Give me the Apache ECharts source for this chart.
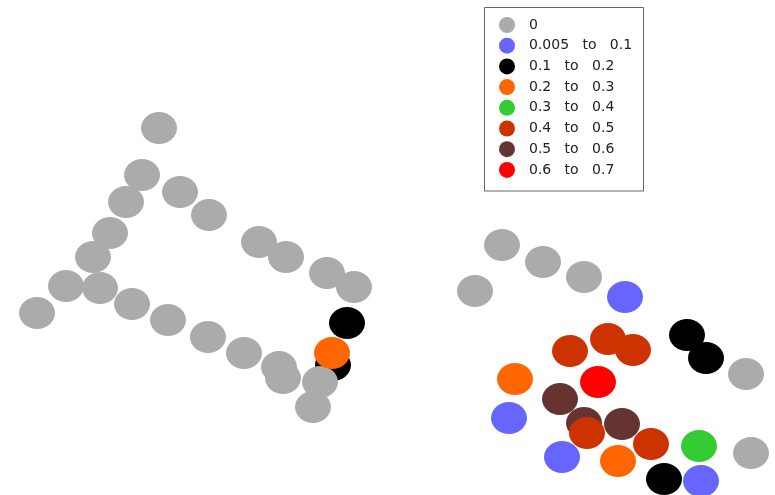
<!DOCTYPE html>
<html>
<head>
<meta charset="utf-8">
<script src="https://cdn.jsdelivr.net/npm/echarts@6/dist/echarts.min.js"></script>
<style>
html,body{margin:0;padding:0;background:#fff;}
#chart{width:775px;height:495px;}
</style>
</head>
<body>
<div id="chart"></div>
<script>
// Category labels (legend)
const categories = ['0', '0.005   to   0.1', '0.1   to   0.2', '0.2   to   0.3', '0.3   to   0.4', '0.4   to   0.5', '0.5   to   0.6', '0.6   to   0.7'];
const colors = ['#ababab', '#6666ff', '#000000', '#ff6600', '#33cc33', '#cc3300', '#663333', '#ff0000'];

// Points per category [x, y] (plot coordinates)
const pts0 = [
  [159,128],[142,175],[180,192],[126,202],[209,215],[110,233],[93,257],[259,242],[286,257],
  [327,273],[354,287],[66,286],[100,288],[37,313],[132,304],[168,320],[208,337],[244,353],
  [279,367],[283,378],[320,382],[313,407],
  [502,245],[543,262],[584,277],[475,291],[746,374],[751,453]
];
const pts1 = [[625,297],[509,418],[562,457],[701,481]];
const pts2 = [[347,323],[333,365],[687,335],[706,358],[664,479]];
const pts3 = [[332,353],[515,379],[618,461]];
const pts4 = [[699,446]];
const pts5 = [[570,351],[608,339],[633,350],[587,433],[651,444]];
const pts6 = [[560,399],[584,423],[622,424]];
const pts7 = [[598,382]];

const pointSets = [pts0, pts1, pts2, pts3, pts4, pts5, pts6, pts7];
const zOrder = [3, 2, 2, 4, 2, 3, 2, 4];

const chart = echarts.init(document.getElementById('chart'));
chart.setOption({
  animation: false,
  backgroundColor: '#ffffff',
  grid: {left: 0, right: 0, top: 0, bottom: 0},
  xAxis: {type: 'value', min: 0, max: 775, show: false},
  yAxis: {type: 'value', min: 0, max: 495, inverse: true, show: false},
  legend: {
    orient: 'vertical',
    left: 499,
    top: 17,
    padding: 0,
    itemWidth: 18,
    itemHeight: 16,
    itemGap: 4.7,
    icon: 'circle',
    data: categories,
    textStyle: {fontFamily: 'DejaVu Sans', fontSize: 14, color: '#222', padding: [0, 0, 0, 8]}
  },
  graphic: [{
    type: 'rect',
    shape: {x: 484.5, y: 7.5, width: 159, height: 183.5},
    style: {fill: 'none', stroke: '#666', lineWidth: 1},
    z: 0
  }],
  series: pointSets.map((d, i) => ({
    type: 'scatter',
    name: categories[i],
    data: d,
    symbol: 'circle',
    symbolSize: [36, 32],
    z: zOrder[i],
    itemStyle: {color: colors[i], opacity: 1},
    emphasis: {disabled: true}
  }))
});
</script>
</body>
</html>
